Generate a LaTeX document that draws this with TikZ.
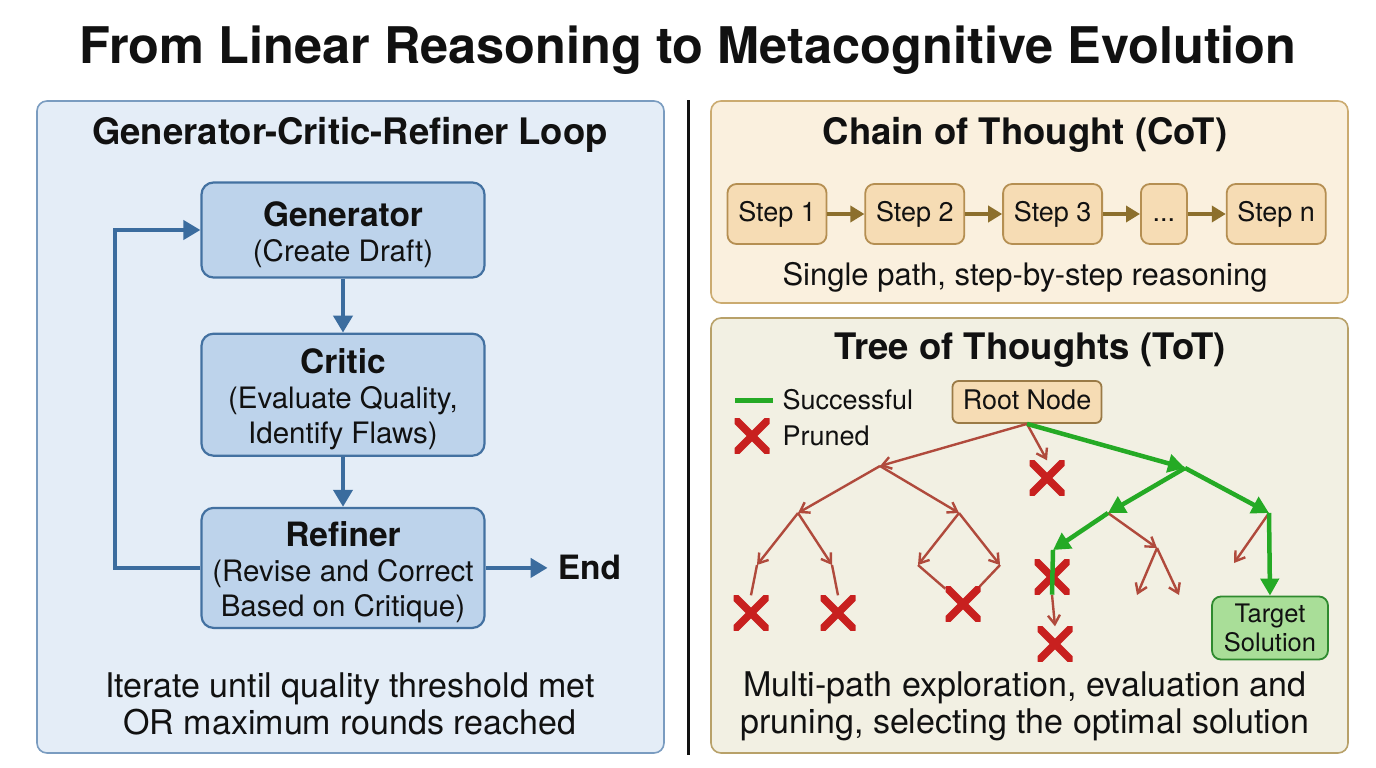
\documentclass[tikz,border=0pt]{standalone}
\usepackage{fontspec}
\setmainfont{TeX Gyre Heros}
\usetikzlibrary{arrows.meta,positioning,calc}
\definecolor{ink}{HTML}{111111}
\definecolor{loopbg}{HTML}{E4EDF7}
\definecolor{loopframe}{HTML}{7A9CC0}
\definecolor{loopfill}{HTML}{BDD3EB}
\definecolor{loopedge}{HTML}{4371A1}
\definecolor{loopline}{HTML}{3B6C9E}
\definecolor{cotbg}{HTML}{FAF0DE}
\definecolor{cotframe}{HTML}{CBAB70}
\definecolor{stepfill}{HTML}{F6DCB4}
\definecolor{stepedge}{HTML}{B58F52}
\definecolor{stepline}{HTML}{8C6F2C}
\definecolor{totbg}{HTML}{F2F0E3}
\definecolor{totframe}{HTML}{B8A169}
\definecolor{treered}{HTML}{B04A3C}
\definecolor{crossred}{HTML}{C8201F}
\definecolor{treegreen}{HTML}{25AA25}
\definecolor{targetfill}{HTML}{A9DE98}
\definecolor{targetedge}{HTML}{2F8A2F}
\newcommand{\titel}{\fontsize{50.5}{56}\selectfont\bfseries}
\newcommand{\kopf}{\fontsize{36.5}{40}\selectfont\bfseries}
\newcommand{\txt}{\fontsize{34}{37}\selectfont}
\newcommand{\boxhead}{\fontsize{33.5}{35}\selectfont\bfseries}
\newcommand{\boxtxt}{\fontsize{29.5}{35}\selectfont}
\newcommand{\steptxt}{\fontsize{27}{30}\selectfont}
\newcommand{\boxkopf}[1]{{\boxhead\rule{0pt}{34pt}#1}}
\tikzset{panel/.style={rounded corners=10pt,line width=1.6pt},
  loopbox/.style={draw=loopedge,fill=loopfill,line width=2.2pt,rounded corners=12pt,
    minimum width=283pt,align=center,font=\boxtxt,text=ink},
  looparrow/.style={loopline,line width=4pt,-{Triangle[length=17pt,width=19pt]}},
  stepbox/.style={draw=stepedge,fill=stepfill,line width=1.8pt,rounded corners=9pt,
    minimum height=60pt,minimum width=99pt,font=\steptxt,text=ink,
    text height=19pt,text depth=5pt},
  steparrow/.style={stepline,line width=3.6pt,-{Triangle[length=14pt,width=16pt]}},
  redarrow/.style={treered,line width=2.4pt,-{Straight Barb[length=9pt,width=12pt]}},
  redline/.style={treered,line width=2.4pt},
  greenarrow/.style={treegreen,line width=4.5pt,-{Triangle[length=17pt,width=18pt]}},
  prunedx/.style={minimum size=35pt,inner sep=0pt,
    path picture={\draw[crossred,line width=7.5pt]
      (path picture bounding box.north west) -- (path picture bounding box.south east)
      (path picture bounding box.north east) -- (path picture bounding box.south west);}}}

\begin{document}
\begin{tikzpicture}[x=1pt,y=-1pt]
\useasboundingbox (0,0) rectangle (1376,768);
\fill[white] (0,0) rectangle (1376,768);
\node[font=\titel,text=ink] (title) at (688,50) {From Linear Reasoning to Metacognitive Evolution};
\draw[ink,line width=3pt] (688,100) -- (688,755);

% left panel
\draw[panel,draw=loopframe,fill=loopbg] (37,101) rectangle (664,753);
\node[font=\kopf,text=ink] (loophead) at (350,135) {Generator-Critic-Refiner Loop};
\node[loopbox,minimum height=95pt] (gen) at (343,230) {\boxkopf{Generator}\\(Create Draft)};
\node[loopbox,minimum height=122pt,below=54pt of gen] (crit) {\boxkopf{Critic}\\(Evaluate Quality,\\Identify Flaws)};
\node[loopbox,minimum height=120pt,below=50pt of crit] (ref) {\boxkopf{Refiner}\\(Revise and Correct\\Based on Critique)};
\node[font=\boxhead,text=ink,inner sep=10pt,right=62pt of ref] (end) {End};
\draw[looparrow] (gen) -- (crit);
\draw[looparrow] (crit) -- (ref);
\draw[looparrow] (ref.west) -- ++(-85,0) |- (gen.west);
\draw[looparrow] (ref.east) -- (end.west);
\node[font=\txt,text=ink,align=center] (loopnote) at (350,704) {Iterate until quality threshold met\\OR maximum rounds reached};

% chain of thought
\draw[panel,draw=cotframe,fill=cotbg] (711,101) rectangle (1348,303);
\node[font=\kopf,text=ink] (cothead) at (1025,135) {Chain of Thought (CoT)};
\node[stepbox] (s1) at (777,214) {Step 1};
\node[stepbox,right=37pt of s1] (s2) {Step 2};
\node[stepbox,right=37pt of s2] (s3) {Step 3};
\node[stepbox,minimum width=46pt,inner xsep=3pt,right=37pt of s3] (sdots) {...};
\node[stepbox,right=38pt of sdots] (sn) {Step n};
\foreach \a/\b in {s1/s2,s2/s3,s3/sdots,sdots/sn}
  \draw[steparrow] (\a) -- (\b);
\node[font=\fontsize{31}{36}\selectfont,text=ink] (cotnote) at (1025,277) {Single path, step-by-step reasoning};

% tree of thoughts
\draw[panel,draw=totframe,fill=totbg] (711,318) rectangle (1348,753);
\node[font=\kopf,text=ink] (tothead) at (1030,350) {Tree of Thoughts (ToT)};
\coordinate (legs) at (735,400);
\coordinate (lege) at (773,400);
\draw[treegreen,line width=5pt] (legs) -- (lege);
\node[font=\steptxt,text=ink,anchor=west] (legok) at (779,400) {Successful};
\node[prunedx] (legx) at (752,436) {};
\node[font=\steptxt,text=ink,anchor=west] (legcut) at (779,436) {Pruned};
\node[stepbox,draw=stepedge!85!black,minimum width=149pt,minimum height=42pt,rounded corners=6pt] (root) at (1027,402) {Root Node};
\node[stepbox,draw=targetedge,fill=targetfill,minimum width=116pt,minimum height=63pt,
  text height=,text depth=,align=center,font=\fontsize{25.5}{29}\selectfont] (target) at (1270,628) {Target\\Solution};
% branch points
\coordinate (a) at (880,466);
\coordinate (a1) at (798,513);
\coordinate (a2) at (959,513);
\coordinate (a11) at (757,565);
\coordinate (a12) at (832,565);
\coordinate (a21) at (918,565);
\coordinate (a22) at (1000,565);
\coordinate (b) at (1185,468);
\coordinate (b1) at (1108,513);
\coordinate (b2) at (1269,513);
\coordinate (b11) at (1053,550);
\coordinate (b12) at (1157,548);
\coordinate (b121) at (1137,595);
\coordinate (b122) at (1179,595);
\coordinate (b21) at (1234,563);
\node[prunedx] (xm) at (1047,478) {};
\node[prunedx] (x1) at (751,613) {};
\node[prunedx] (x2) at (838,613) {};
\node[prunedx] (x3) at (963,604) {};
\node[prunedx] (x4) at (1052,577) {};
\node[prunedx] (x5) at (1055,644) {};
\draw[redarrow] (root.south) -- (a);
\draw[redarrow] (root.south) -- (xm.north);
\draw[redarrow] (a) -- (a1);
\draw[redarrow] (a) -- (a2);
\draw[redarrow] (a1) -- (a11);
\draw[redarrow] (a1) -- (a12);
\draw[redarrow] (a2) -- (a21);
\draw[redarrow] (a2) -- (a22);
\draw[redline] (a11) -- (x1.north);
\draw[redline] (a12) -- (x2.north);
\draw[redline] (a21) -- (x3);
\draw[redline] (a22) -- (x3);
\draw[redarrow] (b1) -- (b12);
\draw[redarrow] (b12) -- (b121);
\draw[redarrow] (b12) -- (b122);
\draw[redarrow] (b2) -- (b21);
\draw[redarrow] (x4.south) -- (x5.north);
\draw[greenarrow] (root.south) -- (b);
\draw[greenarrow] (b) -- (b1);
\draw[greenarrow] (b) -- (b2);
\draw[greenarrow] (b1) -- (b11);
\draw[treegreen,line width=4.5pt] (b11) -- (x4.south);
\draw[greenarrow] (b2) -- (target.north);
\node[font=\txt,text=ink,align=center] (totnote) at (1025,706) {Multi-path exploration, evaluation and\\pruning, selecting the optimal solution};
\end{tikzpicture}
\end{document}
